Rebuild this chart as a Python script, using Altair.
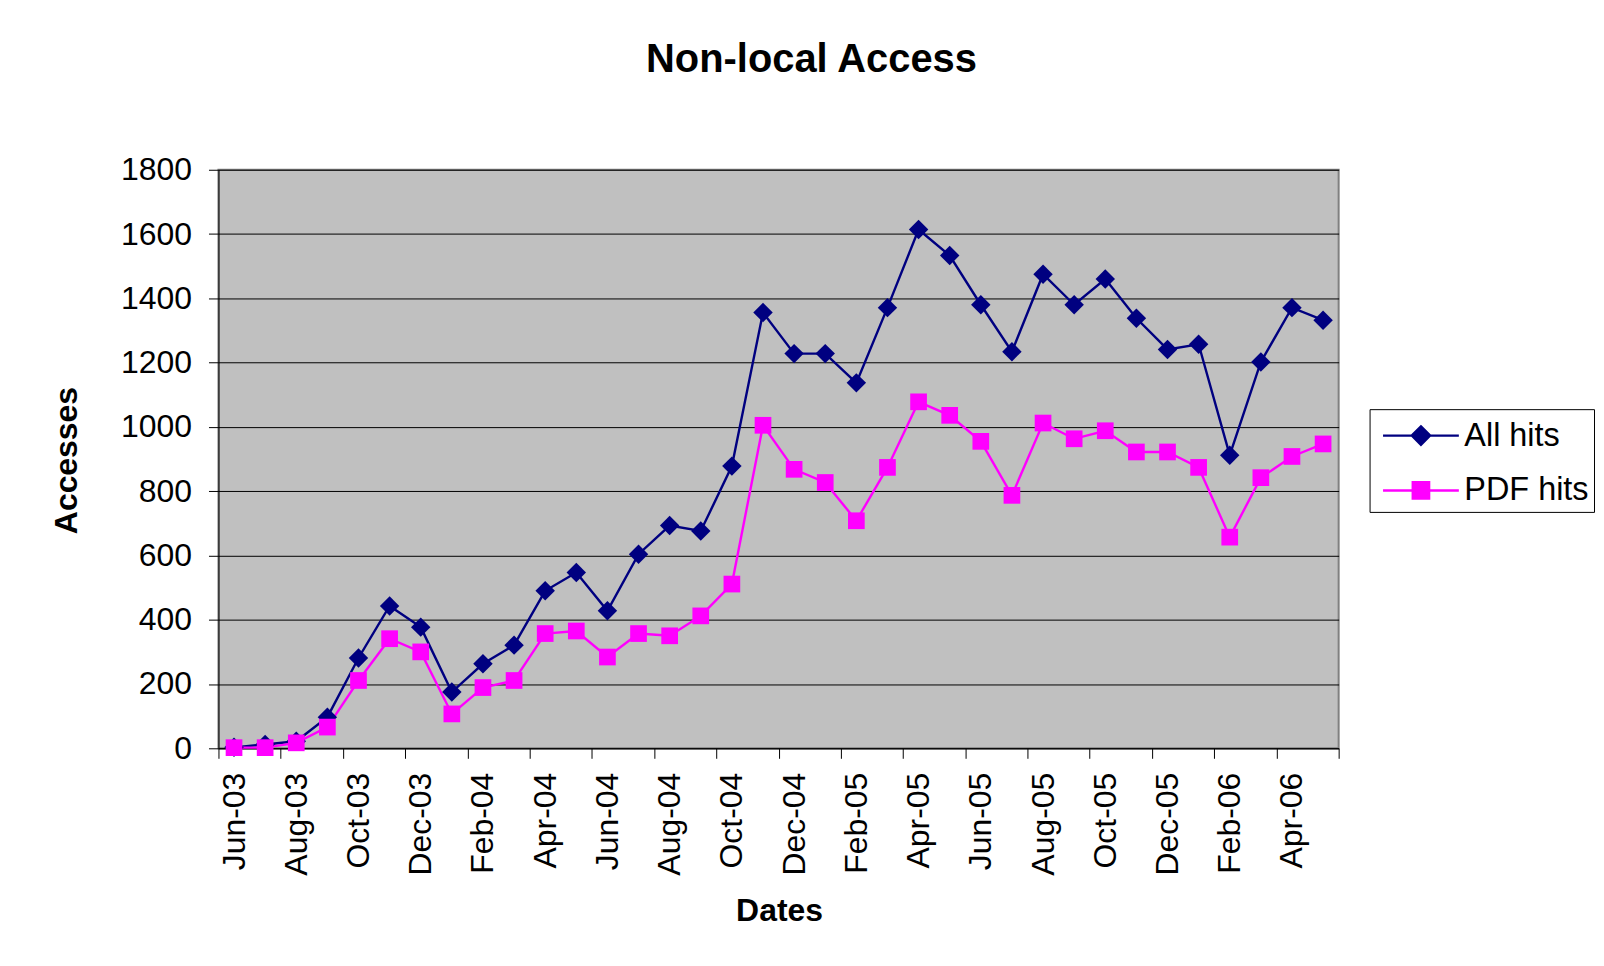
import altair as alt
import pandas as pd

FONT = "Liberation Sans"

months = ["Jun-03", "Jul-03", "Aug-03", "Sep-03", "Oct-03", "Nov-03", "Dec-03",
          "Jan-04", "Feb-04", "Mar-04", "Apr-04", "May-04", "Jun-04", "Jul-04",
          "Aug-04", "Sep-04", "Oct-04", "Nov-04", "Dec-04", "Jan-05", "Feb-05",
          "Mar-05", "Apr-05", "May-05", "Jun-05", "Jul-05", "Aug-05", "Sep-05",
          "Oct-05", "Nov-05", "Dec-05", "Jan-06", "Feb-06", "Mar-06", "Apr-06",
          "May-06"]

all_hits = [3, 12, 22, 97, 281, 443, 377, 175, 263, 321, 490, 547, 428, 604,
            693, 676, 878, 1356, 1228, 1228, 1137, 1371, 1614, 1533, 1380, 1234,
            1475, 1380, 1460, 1338, 1241, 1257, 912, 1202, 1371, 1332]

pdf_hits = [2, 2, 17, 66, 211, 341, 300, 107, 189, 211, 357, 365, 284, 357,
            350, 412, 511, 1005, 868, 827, 708, 874, 1078, 1036, 955, 787,
            1012, 963, 988, 922, 922, 874, 657, 842, 908, 947]

series_names = ["All hits", "PDF hits"]
series_colors = ["#000080", "#FF00FF"]
y_ticks = list(range(0, 1801, 200))

rows = []
for i, m in enumerate(months):
    rows.append({"pos": i + 0.5, "month": m, "series": "All hits", "value": all_hits[i]})
    rows.append({"pos": i + 0.5, "month": m, "series": "PDF hits", "value": pdf_hits[i]})
df = pd.DataFrame(rows)

# axis: ticks at band boundaries (every 2 months), labels at band centres
x_values = []
for k in range(0, len(months) + 1, 2):
    x_values.append(k)
    if k < len(months):
        x_values.append(k + 0.5)

arr = "[" + ",".join("'%s'" % m for m in months) + "]"
label_expr = "datum.value % 1 === 0 ? '' : " + arr + "[floor(datum.value)]"

x_axis = alt.Axis(
    values=x_values, labelExpr=label_expr, labelAngle=270, labelAlign="right",
    labelBaseline="middle", labelFont=FONT, labelFontSize=32, labelColor="black",
    labelPadding=14, labelOverlap=False, labelFlush=False, grid=False,
    tickSize=10, tickColor="black", tickWidth=1,
    tickOpacity={"condition": {"test": "datum.value % 1 !== 0", "value": 0}, "value": 1},
    domainColor="black", domainWidth=1,
    title="Dates", titleFont=FONT, titleFontSize=32, titleFontWeight="bold",
    titleColor="black", titleX=562, titleY=173, titleBaseline="alphabetic",
    titleAlign="center", titleAngle=0,
)

y_axis = alt.Axis(
    values=y_ticks, format="d", labelFont=FONT, labelFontSize=32, labelColor="black",
    labelPadding=17, grid=True, gridColor="black", gridWidth=1,
    tickSize=10, tickColor="black", domainColor="black", domainWidth=1,
    title="Accesses", titleFont=FONT, titleFontSize=32, titleFontWeight="bold",
    titleColor="black", titleAngle=270, titleX=-142, titleY=291,
    titleBaseline="alphabetic", titleAlign="center",
)

base = alt.Chart(df).encode(
    x=alt.X("pos:Q", scale=alt.Scale(domain=[0, len(months)], nice=False, zero=False), axis=x_axis),
    y=alt.Y("value:Q", scale=alt.Scale(domain=[0, 1800], nice=False), axis=y_axis),
)

line_all = base.transform_filter(alt.datum.series == series_names[0]).mark_line(
    strokeWidth=2.4, color=series_colors[0]).encode(order="pos:Q")
line_pdf = base.transform_filter(alt.datum.series == series_names[1]).mark_line(
    strokeWidth=2.4, color=series_colors[1]).encode(order="pos:Q")

diamonds = base.transform_filter(alt.datum.series == series_names[0]).mark_point(
    shape="diamond", filled=True, size=380, opacity=1, color=series_colors[0])
squares = base.transform_filter(alt.datum.series == series_names[1]).mark_point(
    shape="square", filled=True, size=280, opacity=1, color=series_colors[1])

leg = alt.Legend(
    title=None, orient="none", legendX=1154, legendY=240,
    padding=5, rowPadding=17, symbolOffset=25, labelOffset=22,
    symbolSize=1600, symbolStrokeWidth=2.4, symbolOpacity=1,
    labelFont=FONT, labelFontSize=32.5, labelColor="black",
    fillColor="white", strokeColor="black",
)

sym_diamond = "M-1.9,0H1.9M0,-0.46L0.46,0L0,0.46L-0.46,0Z"
sym_square = "M-1.9,0H1.9M-0.41,-0.41H0.41V0.41H-0.41Z"

legend_layer = base.mark_point(filled=True, opacity=0).encode(
    fill=alt.Fill("series:N", scale=alt.Scale(domain=series_names, range=series_colors), legend=leg),
    stroke=alt.Stroke("series:N", scale=alt.Scale(domain=series_names, range=series_colors), legend=leg),
    shape=alt.Shape("series:N", scale=alt.Scale(domain=series_names, range=[sym_diamond, sym_square]), legend=leg),
)

chart = alt.layer(line_all, line_pdf, diamonds, squares, legend_layer).properties(
    width=1123,
    height=580,
    title=alt.TitleParams(
        "Non-local Access", fontSize=40, fontWeight="bold", font=FONT, color="black",
        anchor="middle", frame="group", dx=33, offset=42, baseline="alphabetic",
    ),
    padding={"left": 211, "top": 161, "right": 258, "bottom": 190},
    autosize=alt.AutoSizeParams(type="none"),
    background="white",
).configure_view(fill="#C0C0C0", stroke="#808080", strokeWidth=2)

chart.save("out.html", embed_options={"renderer": "svg", "actions": False})
